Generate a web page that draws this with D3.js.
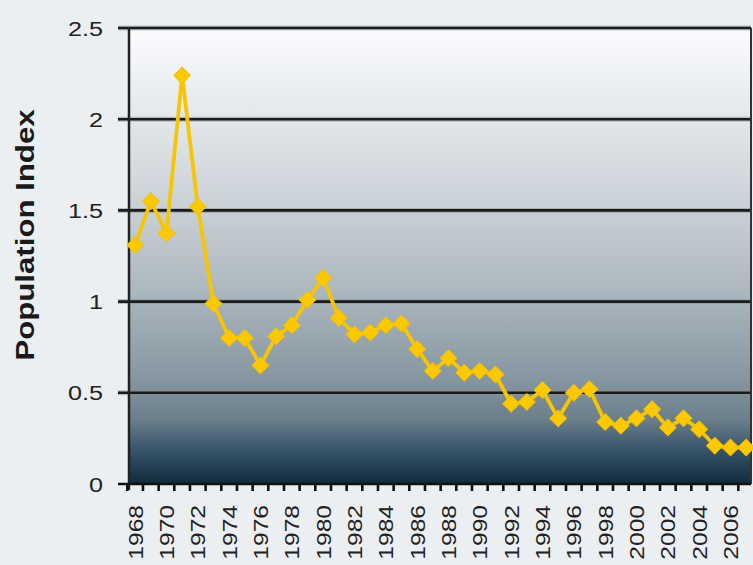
<!DOCTYPE html>
<html>
<head>
<meta charset="utf-8">
<script src="https://cdn.jsdelivr.net/npm/d3@7"></script>
<style>
  html, body { margin: 0; padding: 0; background: #eceff2; }
  svg { display: block; font-family: "Liberation Sans", Arial, sans-serif; }
</style>
</head>
<body>
<div id="chart"></div>
<script>
/* Population index by year */
var years = d3.range(1968, 2008);
var popIndex = [
  1.31, 1.55, 1.375, 2.24, 1.52, 0.99, 0.80, 0.80, 0.65, 0.81,
  0.87, 1.01, 1.13, 0.91, 0.82, 0.83, 0.87, 0.88, 0.74, 0.62,
  0.69, 0.61, 0.62, 0.60, 0.44, 0.45, 0.515, 0.36, 0.50, 0.52,
  0.34, 0.32, 0.36, 0.41, 0.31, 0.36, 0.30, 0.21, 0.20, 0.20
];
var yTicks = [0, 0.5, 1, 1.5, 2, 2.5];
var yTickLabels = ['0', '0.5', '1', '1.5', '2', '2.5'];
var xLabelYears = years.filter(function(y) { return (y - 1968) % 2 === 0; });

var W = 753, H = 565;
var plotLeft = 129, plotRight = 751, plotTop = 28, plotBottom = 484;
var TEXT_STRETCH = 1.2; // the source text is drawn wide along its run

var svg = d3.select('#chart').append('svg')
  .attr('width', W)
  .attr('height', H);

var x = d3.scaleBand()
  .domain(years)
  .range([127.3, 754])
  .padding(0);

var y = d3.scaleLinear()
  .domain([0, 2.5])
  .range([plotBottom, plotTop]);

/* ---- Background gradient of the plot area ---- */
var defs = svg.append('defs');
var grad = defs.append('linearGradient')
  .attr('id', 'bg')
  .attr('x1', 0).attr('y1', 0).attr('x2', 0).attr('y2', 1);
[
  [0.00, '#fbfcfe'],
  [0.20, '#e3e7eb'],
  [0.40, '#c9d0d5'],
  [0.60, '#a8b4bb'],
  [0.78, '#84949f'],
  [0.86, '#6b7e8a'],
  [0.92, '#3b576b'],
  [1.00, '#0e2a3b']
].forEach(function(s) {
  grad.append('stop').attr('offset', s[0]).attr('stop-color', s[1]);
});

svg.append('rect')
  .attr('x', plotLeft)
  .attr('y', plotTop)
  .attr('width', plotRight - plotLeft)
  .attr('height', plotBottom - plotTop)
  .attr('fill', 'url(#bg)');

/* ---- Gridlines (with soft halo) ---- */
var gridVals = yTicks.filter(function(d) { return d > 0; });
var gGrid = svg.append('g');
gGrid.selectAll('line.halo')
  .data(gridVals)
  .enter().append('line')
  .attr('class', 'halo')
  .attr('x1', 118).attr('x2', plotRight)
  .attr('y1', function(d) { return y(d); })
  .attr('y2', function(d) { return y(d); })
  .attr('stroke', '#8a8f94')
  .attr('stroke-opacity', 0.5)
  .attr('stroke-width', 5);
gGrid.selectAll('line.grid')
  .data(gridVals)
  .enter().append('line')
  .attr('class', 'grid')
  .attr('x1', 118).attr('x2', plotRight)
  .attr('y1', function(d) { return y(d); })
  .attr('y2', function(d) { return y(d); })
  .attr('stroke', '#1a1a1a')
  .attr('stroke-width', 2.6);

/* right border */
svg.append('line')
  .attr('x1', plotRight).attr('x2', plotRight)
  .attr('y1', plotTop).attr('y2', plotBottom)
  .attr('stroke', '#333')
  .attr('stroke-width', 2);

/* ---- Y axis ---- */
svg.append('line')
  .attr('x1', plotLeft).attr('x2', plotLeft)
  .attr('y1', plotTop - 1).attr('y2', plotBottom + 6)
  .attr('stroke', '#222')
  .attr('stroke-width', 2.5);

svg.append('line')
  .attr('x1', 118).attr('x2', plotLeft)
  .attr('y1', y(0)).attr('y2', y(0))
  .attr('stroke', '#111')
  .attr('stroke-width', 2.5);

svg.append('g').selectAll('text')
  .data(yTicks)
  .enter().append('text')
  .attr('transform', function(d) {
    return 'translate(103,' + y(d) + ') scale(' + TEXT_STRETCH + ',1)';
  })
  .attr('dy', '0.36em')
  .attr('text-anchor', 'end')
  .attr('font-size', 21)
  .attr('fill', '#222')
  .text(function(d, i) { return yTickLabels[i]; });

svg.append('text')
  .attr('transform', 'translate(34,235) rotate(-90) scale(' + TEXT_STRETCH + ',1)')
  .attr('text-anchor', 'middle')
  .attr('font-size', 26)
  .attr('font-weight', 'bold')
  .attr('fill', '#1a1a1a')
  .text('Population Index');

/* ---- X axis ---- */
svg.append('line')
  .attr('x1', plotLeft).attr('x2', plotRight)
  .attr('y1', plotBottom).attr('y2', plotBottom)
  .attr('stroke', '#111')
  .attr('stroke-width', 2.5);

var tickPos = years.map(function(d) { return x(d); });
svg.append('g').selectAll('line')
  .data(tickPos)
  .enter().append('line')
  .attr('x1', function(d) { return d; })
  .attr('x2', function(d) { return d; })
  .attr('y1', plotBottom)
  .attr('y2', plotBottom + 7)
  .attr('stroke', '#111')
  .attr('stroke-width', 2.6);

svg.append('g').selectAll('text')
  .data(xLabelYears)
  .enter().append('text')
  .attr('transform', function(d) {
    return 'translate(' + (x(d) + x.bandwidth() / 2) + ',' + 505 + ') rotate(-90) scale(' + TEXT_STRETCH + ',1)';
  })
  .attr('dy', '0.36em')
  .attr('text-anchor', 'end')
  .attr('font-size', 20.5)
  .attr('fill', '#222')
  .text(function(d) { return d; });

/* ---- Series ---- */
var pts = years.map(function(yr, i) { return { year: yr, value: popIndex[i] }; });

var line = d3.line()
  .x(function(d) { return x(d.year) + x.bandwidth() / 2; })
  .y(function(d) { return y(d.value); });

svg.append('path')
  .datum(pts)
  .attr('d', line)
  .attr('fill', 'none')
  .attr('stroke', '#f7c600')
  .attr('stroke-width', 3.8)
  .attr('stroke-linejoin', 'round');

var diamond = d3.symbol().type(d3.symbolDiamond2).size(185);
svg.append('g').selectAll('path')
  .data(pts)
  .enter().append('path')
  .attr('transform', function(d) {
    return 'translate(' + (x(d.year) + x.bandwidth() / 2) + ',' + y(d.value) + ')';
  })
  .attr('d', diamond)
  .attr('fill', '#fcc800')
  .attr('stroke', '#f2c000')
  .attr('stroke-width', 1);
</script>
</body>
</html>
